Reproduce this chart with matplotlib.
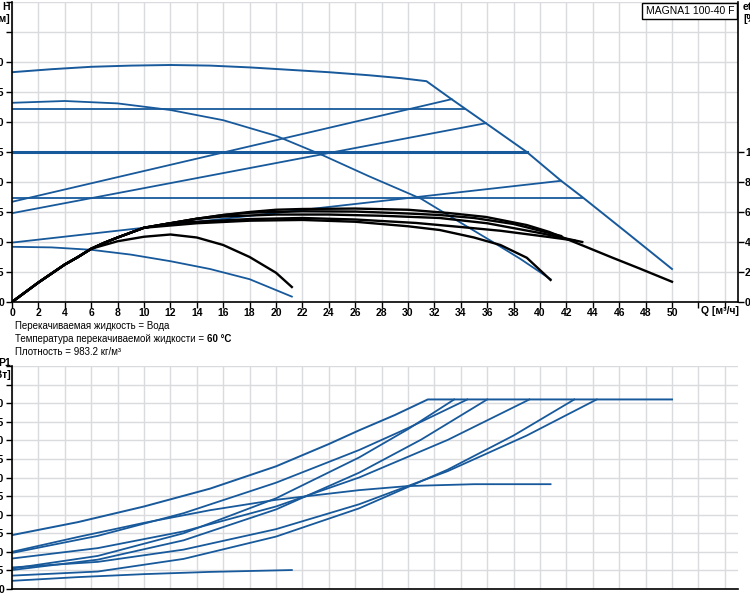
import numpy as np
import matplotlib
matplotlib.use("Agg")
import matplotlib.pyplot as plt

plt.rcParams['font.family'] = ['Liberation Sans', 'DejaVu Sans']

BLUE = '#17599b'
GRID = '#dadbde'

# --- Q-H curves (Q m3/h, H m) ---
max_q = [0, 3, 6, 9, 12, 15, 18, 21, 24, 27, 29.5, 31.4, 33.3, 35.9, 39.0, 41.6, 43.2, 46.5, 50]
max_h = [3.83, 3.88, 3.92, 3.94, 3.95, 3.94, 3.91, 3.87, 3.83, 3.78, 3.73, 3.68, 3.38, 2.98, 2.50, 2.02, 1.75, 1.17, 0.55]

min_q = [0, 4, 8, 12, 16, 20, 23.5, 27, 31, 34, 36.2, 38.5, 40.8]
min_h = [3.32, 3.35, 3.31, 3.20, 3.03, 2.77, 2.45, 2.10, 1.72, 1.32, 1.03, 0.72, 0.38]

small_q = [0, 3, 6, 9, 12, 15, 18, 21.2]
small_h = [0.92, 0.91, 0.87, 0.79, 0.68, 0.55, 0.38, 0.09]

const_h = [3.21, 2.50, 1.74]
const_qend = [34.3, 39.0, 43.2]
const_lw = [1.3, 2.2, 1.3]

prop_q = [[0, 33.3], [0, 35.9], [0, 41.6]]
prop_h = [[1.67, 3.38], [1.48, 2.98], [0.99, 2.02]]

# --- efficiency curves (Q, eta %) ---
rise_q = [0, 1, 2, 3, 4, 5, 6, 7, 8, 10, 12, 14, 16, 18, 20]
rise_e = [0, 6.5, 13, 19, 25, 30, 35.5, 39.5, 43, 49.5, 52.5, 55.5, 58, 60, 61.5]

eta_u1_q = rise_q + [22, 26, 30, 33.1, 35.9, 39, 40.7, 43, 45.5, 47.5, 50]
eta_u1_e = rise_e + [62, 62.3, 61.5, 59.3, 56.7, 51.3, 46.7, 38.5, 29.5, 22.5, 13.5]

eta_u2_q = rise_q[:13] + [18, 22, 26, 30, 32.4, 35, 38, 41.6]
eta_u2_e = rise_e[:13] + [59.5, 60.5, 60.3, 59, 58, 56, 52, 44]

eta_u3_q = rise_q[:12] + [16, 20, 24, 28, 32.4, 36, 40, 43.2]
eta_u3_e = rise_e[:12] + [57, 58.3, 58.3, 57.5, 56, 52.5, 46, 40]

eta_u4_q = rise_q[:11] + [14, 18, 22, 26, 30.6, 34, 37, 40.7, 42.6]
eta_u4_e = rise_e[:11] + [53.5, 55.3, 56, 55, 52.7, 50, 47.5, 43.3, 41]

eta_min_q = rise_q[:10] + [12, 14, 18, 22, 26, 30, 32.4, 35, 37, 39, 40.8]
eta_min_e = rise_e[:10] + [51, 52.5, 54.2, 54.7, 53.5, 50.5, 48, 43, 38, 29.5, 14.7]

eta_small_q = rise_q[:7] + [8, 10, 12, 14, 16, 18, 20, 21.2]
eta_small_e = rise_e[:7] + [40.5, 43.5, 45, 43, 38, 30, 19.5, 10]

# --- power curves (Q, P1 kW) ---
pmax_q = [0, 5, 10, 15, 20, 24, 26.3, 29, 31.5, 50]
pmax_p = [0.145, 0.180, 0.222, 0.270, 0.330, 0.390, 0.427, 0.468, 0.510, 0.510]

pcurve_q = [
    [0, 6.5, 13, 20, 26.3, 30, 34.5],
    [0, 6.5, 13, 20, 26.3, 30, 33.5],
    [0, 6.5, 13, 20, 26.3, 31, 36.0],
    [0, 6.5, 13, 20, 26.3, 33, 39.2],
    [0, 6.5, 13, 20, 26.3, 33, 38, 42.6],
    [0, 6.5, 13, 20, 26.3, 33, 39, 44.3],
]
pcurve_p = [
    [0.097, 0.143, 0.204, 0.286, 0.374, 0.433, 0.510],
    [0.055, 0.089, 0.150, 0.244, 0.354, 0.430, 0.510],
    [0.051, 0.079, 0.131, 0.214, 0.313, 0.402, 0.510],
    [0.082, 0.110, 0.155, 0.222, 0.300, 0.401, 0.510],
    [0.036, 0.047, 0.081, 0.141, 0.217, 0.321, 0.413, 0.510],
    [0.058, 0.073, 0.106, 0.161, 0.228, 0.317, 0.413, 0.510],
]

pmin_q = [0, 5, 10, 15, 20, 26.3, 30, 35, 40.8]
pmin_p = [0.100, 0.140, 0.178, 0.212, 0.240, 0.266, 0.277, 0.282, 0.282]

psmall_q = [0, 5, 10, 15, 21.2]
psmall_p = [0.022, 0.032, 0.040, 0.046, 0.051]

h_ticks = np.arange(0, 5.01, 0.5)
h_labels = ['0', '0.5', '1.0', '1.5', '2.0', '2.5', '3.0', '3.5', '4.0', '', '']
eta_ticks = [0, 20, 40, 60, 80, 100]
q_ticks = np.arange(0, 55, 2)
q_labels = [str(int(v)) if v <= 50 else '' for v in q_ticks]
p_ticks = np.arange(0, 0.601, 0.05)
p_labels = ['0'] + ['%.2f' % v for v in p_ticks[1:11]] + ['', '']

fig = plt.figure(figsize=(7.5, 6), dpi=100)
W, H = 750.0, 600.0

# top chart
ax = fig.add_axes([12 / W, 298 / H, 726 / W, 300 / H])
ax.set_xlim(0, 55)
ax.set_ylim(0, 5)
ax.set_xticks(q_ticks)
ax.set_xticklabels(q_labels, fontsize=7.5, fontweight='bold')
ax.set_yticks(h_ticks)
ax.set_yticklabels(h_labels, fontsize=7.5, fontweight='bold')
ax.tick_params(length=4, width=1, pad=1.5)
ax.tick_params(axis='x', pad=0.5)
ax.grid(True, color=GRID, lw=1)
ax.set_axisbelow(True)
ax.spines['top'].set_visible(False)
ax.spines['right'].set_visible(False)
for s in ['left', 'bottom']:
    ax.spines[s].set_linewidth(1.2)

ax.plot(max_q, max_h, color=BLUE, lw=1.4)
ax.plot(min_q, min_h, color=BLUE, lw=1.3)
ax.plot(small_q, small_h, color=BLUE, lw=1.3)
for h, qe, lw in zip(const_h, const_qend, const_lw):
    ax.plot([0, qe], [h, h], color=BLUE, lw=lw)
for q, h in zip(prop_q, prop_h):
    ax.plot(q, h, color=BLUE, lw=1.3)

ax2 = ax.twinx()
ax2.set_ylim(0, 200)
ax2.set_yticks(eta_ticks)
ax2.set_yticklabels([str(v) for v in eta_ticks], fontsize=7.5, fontweight='bold')
ax2.tick_params(length=4, width=1, pad=1)
ax2.spines['top'].set_visible(False)
ax2.spines['left'].set_visible(False)
ax2.spines['bottom'].set_visible(False)
ax2.spines['right'].set_linewidth(1.2)

for q, e in [(eta_u1_q, eta_u1_e), (eta_u2_q, eta_u2_e), (eta_u3_q, eta_u3_e),
             (eta_u4_q, eta_u4_e), (eta_min_q, eta_min_e), (eta_small_q, eta_small_e)]:
    ax2.plot(q, e, color='black', lw=1.7)

# bottom chart
pb = fig.add_axes([12 / W, 11 / H, 726 / W, 223 / H])
pb.set_xlim(0, 55)
pb.set_ylim(0, 0.6)
pb.set_xticks(q_ticks)
pb.set_xticklabels([])
pb.set_yticks(p_ticks)
pb.set_yticklabels(p_labels, fontsize=7.5, fontweight='bold')
pb.tick_params(length=4, width=1, pad=1.5)
pb.tick_params(axis='x', length=0)
pb.grid(True, color=GRID, lw=1)
pb.set_axisbelow(True)
pb.spines['top'].set_visible(False)
pb.spines['right'].set_visible(False)
for s in ['left', 'bottom']:
    pb.spines[s].set_linewidth(1.2)

pb.plot(pmax_q, pmax_p, color=BLUE, lw=1.4)
for q, p in zip(pcurve_q, pcurve_p):
    pb.plot(q, p, color=BLUE, lw=1.3)
pb.plot(pmin_q, pmin_p, color=BLUE, lw=1.3)
pb.plot(psmall_q, psmall_p, color=BLUE, lw=1.3)

# texts
fig.text(10 / W, 1 - 2 / H, 'H\n[м]', ha='right', va='top', fontsize=7.5,
         fontweight='bold', multialignment='right', linespacing=1.3)
fig.text(743 / W, 1 - 2 / H, 'eta\n[%]', ha='left', va='top', fontsize=7.5,
         fontweight='bold', linespacing=1.3)
fig.text(11 / W, 1 - 358 / H, 'P1\n[кВт]', ha='right', va='top', fontsize=7.5,
         fontweight='bold', multialignment='right', linespacing=1.3)
fig.text(701 / W, 1 - 311 / H, 'Q [м³/ч]', ha='left', va='center', fontsize=7.5,
         fontweight='bold')
fig.text(734 / W, 1 - 11 / H, 'MAGNA1 100-40 F', ha='right', va='center', fontsize=7.5,
         bbox=dict(boxstyle='square,pad=0.3', fc='white', ec='black', lw=1))

fig.text(15 / W, 1 - 326 / H, 'Перекачиваемая жидкость = Вода', ha='left',
         va='center', fontsize=7)
t2 = fig.text(15 / W, 1 - 339 / H, 'Температура перекачиваемой жидкости = ', ha='left',
              va='center', fontsize=7)
fig.text(15 / W, 1 - 352 / H, 'Плотность = 983.2 кг/м³', ha='left', va='center', fontsize=7)
fig.canvas.draw()
bb = t2.get_window_extent()
fig.text(bb.x1 / W, 1 - 339 / H, '60 °C', ha='left', va='center', fontsize=7,
         fontweight='bold')

fig.savefig('out.png', dpi=100)
